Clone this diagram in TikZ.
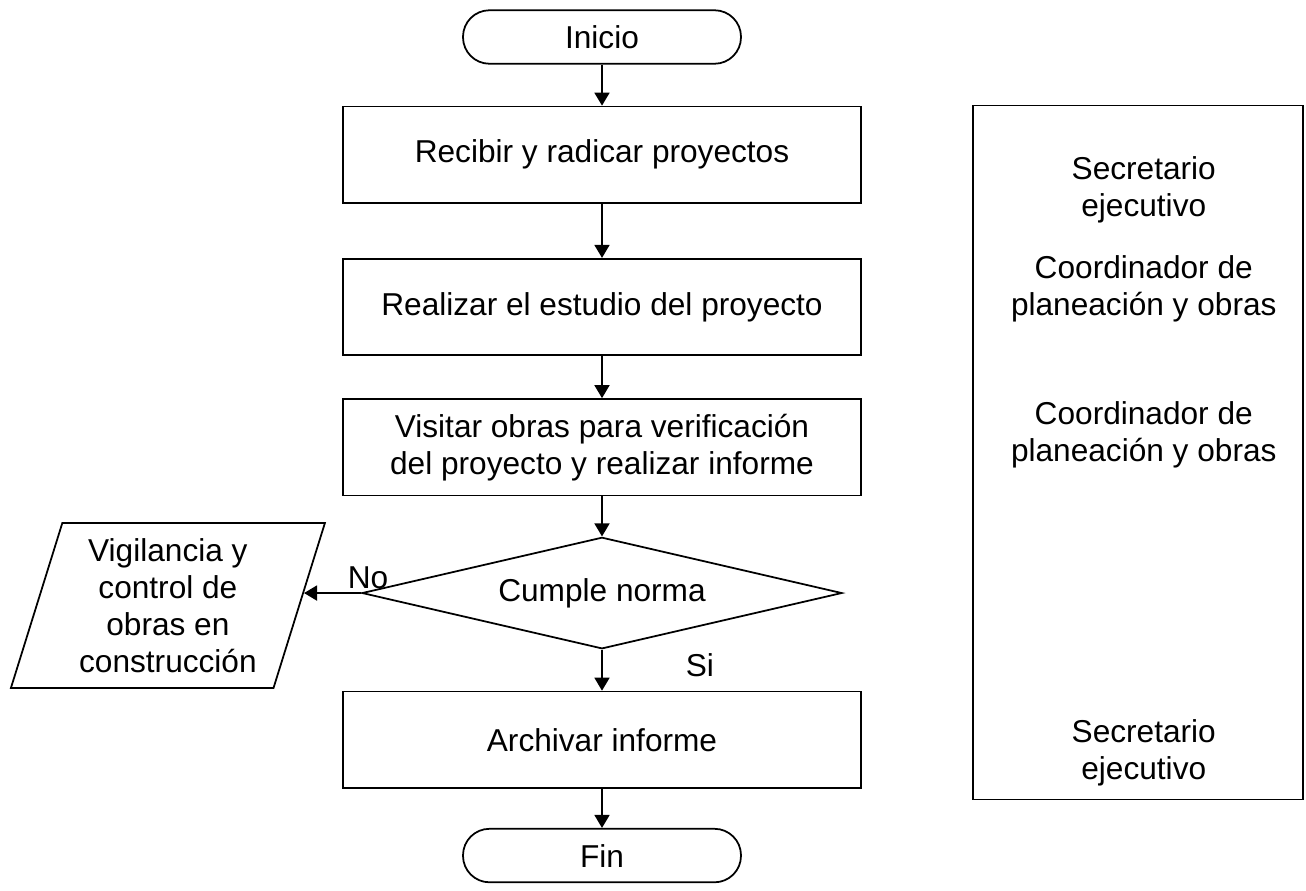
\documentclass[tikz,border=0pt]{standalone}
\usepackage{fontspec}
\setmainfont{Liberation Sans}
\usetikzlibrary{arrows.meta, positioning, shapes.geometric}
\tikzset{
  proceso/.style={draw, line width=1pt, align=center, inner sep=2pt,
                  minimum width=10.36cm, minimum height=1.93cm},
  terminal/.style={draw, line width=1pt, rounded corners=0.53cm, inner sep=2pt,
                   minimum width=5.56cm, minimum height=1.07cm},
  decision/.style={draw, line width=1pt, diamond, aspect=4.29, inner sep=0pt,
                   minimum width=9.6cm, minimum height=2.23cm},
  datos/.style={draw, line width=1pt, trapezium, trapezium left angle=69,
                trapezium right angle=111, trapezium stretches body, align=center,
                inner sep=0pt, minimum width=6.28cm, minimum height=3.3cm},
  panel/.style={draw, line width=1pt, inner sep=0pt,
                minimum width=6.6cm, minimum height=13.88cm},
  cargo/.style={align=center},
  flecha/.style={-{Triangle[length=0.26cm, width=0.3cm]}, line width=1pt},
  etiqueta/.style={inner sep=2pt}
}

\begin{document}
\begin{tikzpicture}[font=\fontsize{18}{21}\selectfont]
\useasboundingbox (0,0) rectangle (26.12,-17.8);

% Flujo principal
\node[terminal] (inicio) at (12.04,-0.74) {Inicio};
\node[proceso, below=0.82cm of inicio] (recibir) {Recibir y radicar proyectos};
\node[proceso, below=1.08cm of recibir] (estudio) {Realizar el estudio del proyecto};
\node[proceso, below=0.84cm of estudio] (visitar) {Visitar obras para verificación\\del proyecto y realizar informe};
\node[decision, below=0.8cm of visitar] (cumple) {Cumple norma};
\node[proceso, below=0.82cm of cumple] (archivar) {Archivar informe};
\node[terminal, below=0.78cm of archivar] (fin) {Fin};

% Salida por el no
\node[datos, left=1.22cm of cumple, yshift=-0.25cm] (vigilancia) {Vigilancia y\\control de\\obras en\\construcción};

% Responsables
\node[panel, anchor=north west] (cargos) at ([xshift=2.2cm, yshift=0.02cm]recibir.north east) {};
\node[cargo] (cargo1) at ([xshift=0.12cm, yshift=-1.7cm]cargos.north) {Secretario\\ejecutivo};
\node[cargo] (cargo2) at ([xshift=0.12cm, yshift=-3.68cm]cargos.north) {Coordinador de\\planeación y obras};
\node[cargo] (cargo3) at ([xshift=0.12cm, yshift=-6.6cm]cargos.north) {Coordinador de\\planeación y obras};
\node[cargo] (cargo4) at ([xshift=0.12cm, yshift=-12.96cm]cargos.north) {Secretario\\ejecutivo};

% Flechas
\draw[flecha] (inicio) -- (recibir);
\draw[flecha] (recibir) -- (estudio);
\draw[flecha] (estudio) -- (visitar);
\draw[flecha] (visitar) -- (cumple);
\draw[flecha] (cumple) -- node[etiqueta, right, xshift=1.59cm, yshift=0.1cm] {Si} (archivar);
\draw[flecha] (archivar) -- (fin);
\coordinate (choque) at (intersection of vigilancia.top right corner--vigilancia.bottom right corner and cumple.west--cumple.east);
\draw[flecha] (cumple.west) -- node[etiqueta, at start, above, xshift=0.14cm] {No} (choque);

\end{tikzpicture}
\end{document}
